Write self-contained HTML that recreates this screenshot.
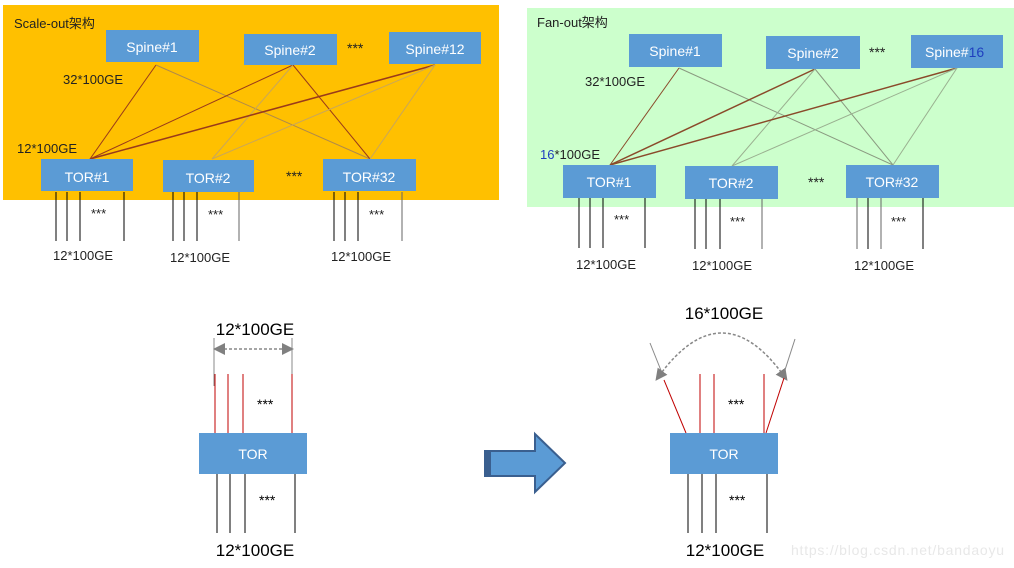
<!DOCTYPE html>
<html><head><meta charset="utf-8"><style>
html,body{margin:0;padding:0;background:#fff;width:1014px;height:568px;overflow:hidden}
svg{display:block}
text{font-family:"Liberation Sans","Noto Sans CJK SC",sans-serif}
</style></head><body>
<svg width="1014" height="568" viewBox="0 0 1014 568" xmlns="http://www.w3.org/2000/svg">
<defs>
<marker id="ah" markerWidth="8" markerHeight="8" refX="4" refY="4" orient="auto-start-reverse"><path d="M0,0 L8,4 L0,8 z" fill="#808080"/></marker>
</defs>
<!-- left panel -->
<rect x="3" y="5" width="496" height="195" fill="#FFC000"/>
<text x="14" y="28" font-size="13" fill="#222">Scale-out架构</text>
<g stroke-width="1" fill="none">
<line x1="156" y1="65" x2="90" y2="159" stroke="#9a3a1a"/>
<line x1="156" y1="65" x2="370" y2="159" stroke="#b08a4a"/>
<line x1="293" y1="65" x2="90" y2="159" stroke="#9a3a1a"/>
<line x1="293" y1="65" x2="212" y2="159" stroke="#c9a65a"/>
<line x1="293" y1="65" x2="370" y2="159" stroke="#9a3a1a"/>
<line x1="435" y1="65" x2="90" y2="159" stroke="#9a3a1a" stroke-width="1.5"/>
<line x1="435" y1="65" x2="212" y2="159" stroke="#c9a65a"/>
<line x1="435" y1="65" x2="370" y2="159" stroke="#c9a65a"/>
</g>
<g fill="#5B9BD5">
<rect x="106" y="30" width="93" height="32"/>
<rect x="244" y="34" width="93" height="31"/>
<rect x="389" y="32" width="92" height="32"/>
<rect x="41" y="159" width="92" height="32"/>
<rect x="163" y="160" width="91" height="32"/>
<rect x="323" y="159" width="93" height="32"/>
</g>
<g fill="#fff" font-size="14" text-anchor="middle">
<text x="152" y="52">Spine#1</text><text x="290" y="55">Spine#2</text><text x="435" y="54">Spine#12</text>
<text x="87" y="182">TOR#1</text><text x="208" y="183">TOR#2</text><text x="369" y="182">TOR#32</text>
</g>
<g font-size="13" fill="#222">
<text x="63" y="84">32*100GE</text><text x="17" y="153">12*100GE</text>
<text x="347" y="53" font-size="14">***</text><text x="286" y="181" font-size="14">***</text>
</g>
<g stroke="#000" stroke-width="1">
<line x1="56" y1="192" x2="56" y2="241"/><line x1="67" y1="192" x2="67" y2="241"/><line x1="80" y1="192" x2="80" y2="241"/><line x1="124" y1="192" x2="124" y2="241"/>
<line x1="173" y1="192" x2="173" y2="241"/><line x1="184" y1="192" x2="184" y2="241"/><line x1="197" y1="192" x2="197" y2="241"/><line x1="239" y1="192" x2="239" y2="241" stroke="#666"/>
<line x1="334" y1="192" x2="334" y2="241"/><line x1="345" y1="192" x2="345" y2="241"/><line x1="358" y1="192" x2="358" y2="241"/><line x1="402" y1="192" x2="402" y2="241" stroke="#666"/>
</g>
<g font-size="13" fill="#222">
<text x="91" y="218">***</text><text x="208" y="219">***</text><text x="369" y="219">***</text>
<text x="53" y="260">12*100GE</text><text x="170" y="262">12*100GE</text><text x="331" y="261">12*100GE</text>
</g>
<!-- right panel -->
<rect x="527" y="8" width="487" height="199" fill="#CCFFCC"/>
<text x="537" y="27" font-size="13" fill="#222">Fan-out架构</text>
<g stroke-width="1" fill="none">
<line x1="679" y1="68" x2="610" y2="165" stroke="#8a4a2a"/>
<line x1="679" y1="68" x2="893" y2="165" stroke="#8a9a80"/>
<line x1="815" y1="69" x2="610" y2="165" stroke="#8a4a2a" stroke-width="1.5"/>
<line x1="815" y1="69" x2="732" y2="166" stroke="#9ab090"/>
<line x1="815" y1="69" x2="893" y2="165" stroke="#8a9a80"/>
<line x1="957" y1="68" x2="610" y2="165" stroke="#8a4a2a" stroke-width="1.5"/>
<line x1="957" y1="68" x2="732" y2="166" stroke="#9ab090"/>
<line x1="957" y1="68" x2="893" y2="165" stroke="#9ab090"/>
</g>
<g fill="#5B9BD5">
<rect x="629" y="34" width="93" height="33"/>
<rect x="766" y="36" width="94" height="33"/>
<rect x="911" y="35" width="92" height="33"/>
<rect x="563" y="165" width="93" height="33"/>
<rect x="685" y="166" width="93" height="33"/>
<rect x="846" y="165" width="93" height="33"/>
</g>
<g fill="#fff" font-size="14" text-anchor="middle">
<text x="675" y="56">Spine#1</text><text x="813" y="58">Spine#2</text>
<text x="609" y="187">TOR#1</text><text x="731" y="188">TOR#2</text><text x="892" y="187">TOR#32</text>
</g>
<text x="925" y="57" font-size="14" fill="#fff">Spine#<tspan fill="#1f3fbf">16</tspan></text>
<g font-size="13" fill="#222">
<text x="585" y="86">32*100GE</text><text x="540" y="159"><tspan fill="#1f3fbf">16</tspan>*100GE</text>
<text x="869" y="57" font-size="14">***</text><text x="808" y="187" font-size="14">***</text>
</g>
<g stroke="#000" stroke-width="1">
<line x1="579" y1="198" x2="579" y2="248"/><line x1="590" y1="198" x2="590" y2="248"/><line x1="603" y1="198" x2="603" y2="248"/><line x1="645" y1="198" x2="645" y2="248"/>
<line x1="695" y1="199" x2="695" y2="249"/><line x1="706" y1="199" x2="706" y2="249"/><line x1="720" y1="199" x2="720" y2="249"/><line x1="762" y1="199" x2="762" y2="249" stroke="#666"/>
<line x1="857" y1="198" x2="857" y2="249" stroke="#666"/><line x1="868" y1="198" x2="868" y2="249"/><line x1="881" y1="198" x2="881" y2="249" stroke="#666"/><line x1="923" y1="198" x2="923" y2="249"/>
</g>
<g font-size="13" fill="#222">
<text x="614" y="224">***</text><text x="730" y="226">***</text><text x="891" y="226">***</text>
<text x="576" y="269">12*100GE</text><text x="692" y="270">12*100GE</text><text x="854" y="270">12*100GE</text>
</g>
<!-- bottom left -->
<text x="255" y="335" font-size="17" text-anchor="middle" fill="#000">12*100GE</text>
<line x1="214" y1="338" x2="214" y2="386" stroke="#888"/><line x1="292" y1="338" x2="292" y2="386" stroke="#888"/>
<line x1="219" y1="349" x2="288" y2="349" stroke="#888" stroke-width="1.5" stroke-dasharray="3,2" marker-start="url(#ah)" marker-end="url(#ah)"/>
<g stroke="#C00000"><line x1="215" y1="374" x2="215" y2="433"/><line x1="228" y1="374" x2="228" y2="433"/><line x1="243" y1="374" x2="243" y2="433"/><line x1="292" y1="374" x2="292" y2="433"/></g>
<rect x="199" y="433" width="108" height="41" fill="#5B9BD5"/>
<text x="253" y="459" font-size="14" fill="#fff" text-anchor="middle">TOR</text>
<g stroke="#000"><line x1="217" y1="474" x2="217" y2="533"/><line x1="230" y1="474" x2="230" y2="533"/><line x1="245" y1="474" x2="245" y2="533"/><line x1="295" y1="474" x2="295" y2="533"/></g>
<text x="257" y="409" font-size="14" fill="#000">***</text>
<text x="259" y="505" font-size="14" fill="#000">***</text>
<text x="255" y="556" font-size="17" text-anchor="middle" fill="#000">12*100GE</text>
<!-- arrow -->
<path d="M485,451 L535,451 L535,434 L565,463 L535,492 L535,476 L485,476 Z" fill="#5B9BD5" stroke="#3A5F8F" stroke-width="2"/>
<rect x="485" y="452" width="6" height="23" fill="#3A5F8F"/>
<!-- bottom right -->
<text x="724" y="319" font-size="17" text-anchor="middle" fill="#000">16*100GE</text>
<line x1="650" y1="343" x2="662" y2="373" stroke="#888"/><line x1="795" y1="339" x2="784" y2="373" stroke="#888"/>
<path d="M659,376 Q722,290 784,376" fill="none" stroke="#888" stroke-width="1.5" stroke-dasharray="3,2" marker-start="url(#ah)" marker-end="url(#ah)"/>
<g stroke="#C00000"><line x1="664" y1="380" x2="686" y2="433"/><line x1="700" y1="374" x2="700" y2="433"/><line x1="714" y1="374" x2="714" y2="433"/><line x1="764" y1="374" x2="764" y2="433"/><line x1="784" y1="378" x2="766" y2="433"/></g>
<rect x="670" y="433" width="108" height="41" fill="#5B9BD5"/>
<text x="724" y="459" font-size="14" fill="#fff" text-anchor="middle">TOR</text>
<g stroke="#000"><line x1="688" y1="474" x2="688" y2="533"/><line x1="702" y1="474" x2="702" y2="533"/><line x1="716" y1="474" x2="716" y2="533"/><line x1="767" y1="474" x2="767" y2="533"/></g>
<text x="728" y="409" font-size="14" fill="#000">***</text>
<text x="729" y="505" font-size="14" fill="#000">***</text>
<text x="725" y="556" font-size="17" text-anchor="middle" fill="#000">12*100GE</text>
<text x="791" y="555" font-size="14" fill="#e8e8e8" textLength="213">https://blog.csdn.net/bandaoyu</text>
</svg>
</body></html>
